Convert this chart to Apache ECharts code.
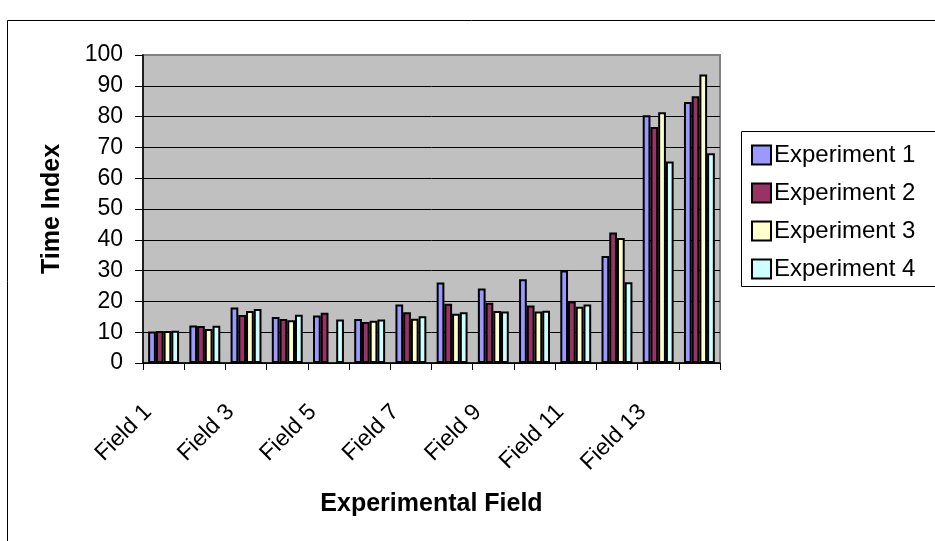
<!DOCTYPE html>
<html>
<head>
<meta charset="utf-8">
<script src="https://cdn.jsdelivr.net/npm/echarts@6/dist/echarts.min.js"></script>
<style>
  html, body { margin: 0; padding: 0; background: #fff; }
  #chart { width: 935px; height: 541px; }
</style>
</head>
<body>
<div id="chart"></div>
<script>
// Fields along the x axis
const fields = ['Field 1', 'Field 2', 'Field 3', 'Field 4', 'Field 5', 'Field 6', 'Field 7',
                'Field 8', 'Field 9', 'Field 10', 'Field 11', 'Field 12', 'Field 13', 'Field 14'];

// Time index per experiment ('-' = no measurement)
const experiment1 = [10.2, 12.2, 18.0, 14.9, 15.4, 14.3, 19.0, 26.1, 24.2, 27.2, 30.0, 34.7, 80.4, 84.7];
const experiment2 = [10.4, 12.0, 15.6, 14.3, 16.3, 13.3, 16.5, 19.2, 19.6, 18.7, 20.0, 42.4, 76.6, 86.6];
const experiment3 = [10.4, 11.0, 16.9, 13.9, '-', 13.7, 14.4, 16.0, 16.9, 16.7, 18.3, 40.6, 81.4, 93.7];
const experiment4 = [10.5, 12.1, 17.5, 15.7, 14.1, 14.1, 15.2, 16.5, 16.7, 17.0, 19.0, 26.2, 65.4, 68.1];

const seriesNames = ['Experiment 1', 'Experiment 2', 'Experiment 3', 'Experiment 4'];
const seriesColors = ['#9999FF', '#993366', '#FFFFCC', '#CCFFFF'];
const yTicks = { min: 0, max: 100, step: 10 };

const FONT = 'Arial, "Liberation Sans", sans-serif';
const chart = echarts.init(document.getElementById('chart'), null, { renderer: 'canvas' });

const values = [experiment1, experiment2, experiment3, experiment4];
const series = values.map((data, i) => ({
  name: seriesNames[i],
  type: 'bar',
  data: data,
  barGap: '0%',
  barCategoryGap: '25%',
  itemStyle: { color: seriesColors[i], borderColor: '#000', borderWidth: 2 },
  emphasis: { disabled: true }
}));

chart.setOption({
  animation: false,
  backgroundColor: '#fff',
  textStyle: { fontFamily: FONT },
  graphic: [
    { type: 'rect', z: -10, silent: true,
      shape: { x: 7.5, y: 20.5, width: 1000, height: 600 },
      style: { fill: 'none', stroke: '#000', lineWidth: 1 } },
    { type: 'rect', z: 0, silent: true,
      shape: { x: 741.5, y: 131.5, width: 220, height: 155 },
      style: { fill: '#fff', stroke: '#000', lineWidth: 1 } }
  ],
  grid: {
    left: 143, right: 215, top: 55, bottom: 178,
    show: true, backgroundColor: '#C0C0C0', borderColor: '#808080', borderWidth: 2
  },
  legend: {
    orient: 'vertical',
    left: 751, top: 143,
    padding: 0,
    itemGap: 14,
    itemWidth: 19, itemHeight: 19,
    icon: 'rect',
    itemStyle: { borderColor: '#000', borderWidth: 2 },
    textStyle: { fontFamily: FONT, fontSize: 24, color: '#000', lineHeight: 24, padding: [0, 0, 0, -2] },
    z: 5
  },
  xAxis: {
    type: 'category',
    data: fields,
    name: 'Experimental Field',
    nameLocation: 'middle',
    nameGap: 129,
    nameTextStyle: { fontFamily: FONT, fontSize: 25, fontWeight: 'bold', color: '#000' },
    axisLine: { lineStyle: { color: '#000', width: 1.5 } },
    axisTick: { show: true, interval: 0, length: 7, alignWithLabel: false, lineStyle: { color: '#000' } },
    axisLabel: { interval: 1, rotate: 45, margin: 30, padding: [0, 22, 0, 0],
                 fontFamily: FONT, fontSize: 23, color: '#000' },
    splitLine: { show: false }
  },
  yAxis: {
    type: 'value',
    min: yTicks.min, max: yTicks.max, interval: yTicks.step,
    name: 'Time Index',
    nameLocation: 'middle',
    nameGap: 78,
    nameRotate: 90,
    nameTextStyle: { fontFamily: FONT, fontSize: 25, fontWeight: 'bold', color: '#000' },
    axisLine: { show: true, lineStyle: { color: '#000', width: 1.5 } },
    axisTick: { show: true, length: 8, lineStyle: { color: '#000' } },
    axisLabel: { margin: 20, fontFamily: FONT, fontSize: 23, color: '#000' },
    splitLine: { show: true, showMaxLine: false, lineStyle: { color: '#000', width: 1 } }
  },
  series: series
});
</script>
</body>
</html>
